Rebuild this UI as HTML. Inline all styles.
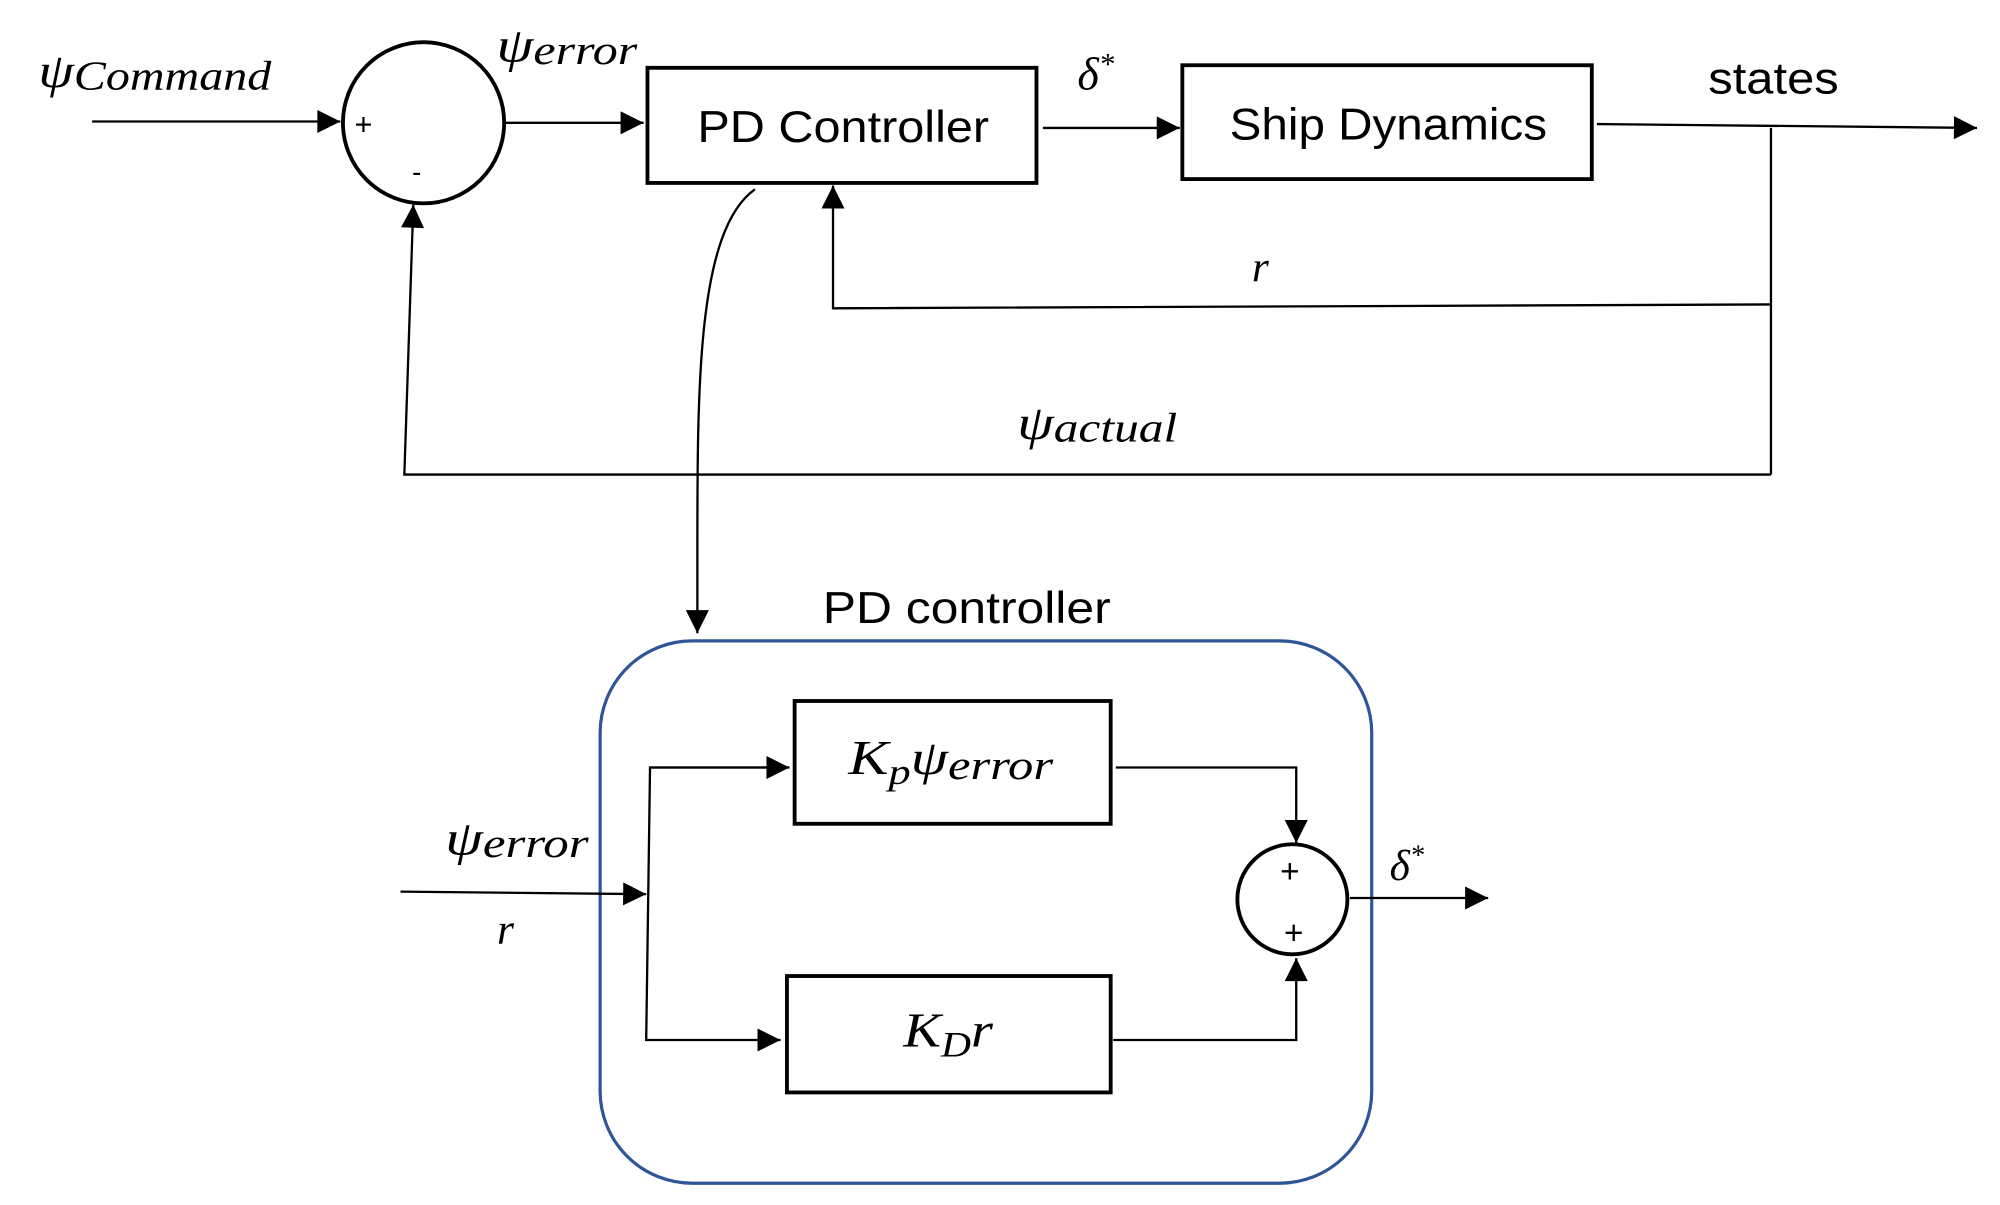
<!DOCTYPE html>
<html><head><meta charset="utf-8"><style>
html,body{margin:0;padding:0;background:#fff;width:2000px;height:1205px;overflow:hidden}
svg{display:block}
.m{font-family:"Liberation Serif",serif;font-style:italic}
.s{font-family:"Liberation Sans",sans-serif}
</style></head><body>
<svg width="2000" height="1205" viewBox="0 0 1563 942" preserveAspectRatio="none" xmlns="http://www.w3.org/2000/svg">
<defs>
<marker id="b" viewBox="0 0 10 10" refX="10" refY="5" markerWidth="22" markerHeight="18" markerUnits="userSpaceOnUse" orient="auto"><path d="M0,0 L10,5 L0,10 z" fill="#000"/></marker></defs>
<g stroke="#000" fill="none" stroke-width="1.8">
<line x1="72" y1="95" x2="266" y2="95" marker-end="url(#b)"/>
<circle cx="331" cy="96" r="63" stroke-width="3"/>
<line x1="395" y1="96" x2="503" y2="96" marker-end="url(#b)"/>
<rect x="506" y="53" width="304" height="90" stroke-width="3"/>
<line x1="815" y1="100" x2="922" y2="100" marker-end="url(#b)"/>
<rect x="924" y="51" width="320" height="89" stroke-width="3"/>
<line x1="1248" y1="97" x2="1545" y2="100" marker-end="url(#b)"/>
<line x1="1384" y1="100" x2="1384" y2="371"/>
<polyline points="1384,238 651,241 651,145" marker-end="url(#b)"/>
<polyline points="1384,371 316,371 323,160" marker-end="url(#b)"/>
<path d="M590,148 C545,180 545,300 545,430 L545,495" marker-end="url(#b)"/>
<rect x="469" y="501" width="603" height="424" rx="72" ry="72" stroke="#2e5597" stroke-width="2.5"/>
<rect x="621" y="548" width="247" height="96" stroke-width="3"/>
<rect x="615" y="763" width="253" height="91" stroke-width="3"/>
<line x1="313" y1="697" x2="505" y2="699" marker-end="url(#b)"/>
<polyline points="615,600 508,600 505,813 610,813" marker-end="url(#b)"/>
<line x1="508" y1="600" x2="617" y2="600" marker-end="url(#b)"/>
<polyline points="872,600 1013,600 1013,659" marker-end="url(#b)"/>
<circle cx="1010" cy="703" r="43" stroke-width="3"/>
<polyline points="870,813 1013,813 1013,749" marker-end="url(#b)"/>
<line x1="1055" y1="702" x2="1163" y2="702" marker-end="url(#b)"/>
</g>
<g fill="#000">
<text class="m" x="30" y="68" font-size="38" textLength="182" lengthAdjust="spacingAndGlyphs">ψ<tspan font-size="32" dy="2">Command</tspan></text>
<text class="s" x="277" y="105" font-size="24">+</text>
<text class="s" x="322" y="142" font-size="22">-</text>
<text class="m" x="388" y="48" font-size="38" textLength="110" lengthAdjust="spacingAndGlyphs">ψ<tspan font-size="32" dy="2">error</tspan></text>
<text class="s" x="545" y="111" font-size="35" textLength="228" lengthAdjust="spacingAndGlyphs">PD Controller</text>
<text class="m" x="842" y="70" font-size="36">δ<tspan font-size="24" dy="-12">*</tspan></text>
<text class="s" x="961" y="109" font-size="35" textLength="248" lengthAdjust="spacingAndGlyphs">Ship Dynamics</text>
<text class="s" x="1335" y="73" font-size="35" textLength="102" lengthAdjust="spacingAndGlyphs">states</text>
<text class="m" x="985" y="220" font-size="34" text-anchor="middle">r</text>
<text class="m" x="795" y="343" font-size="38" textLength="125" lengthAdjust="spacingAndGlyphs">ψ<tspan font-size="32" dy="2">actual</tspan></text>
<text class="s" x="643" y="487" font-size="35" textLength="225" lengthAdjust="spacingAndGlyphs">PD controller</text>
<text class="m" x="663" y="605" font-size="38" textLength="160" lengthAdjust="spacingAndGlyphs">K<tspan font-size="28" dy="8">p</tspan><tspan dy="-8">ψ</tspan><tspan font-size="32" dy="4">error</tspan></text>
<text class="m" x="706" y="818" font-size="38" textLength="70" lengthAdjust="spacingAndGlyphs">K<tspan font-size="28" dy="8">D</tspan><tspan dy="-8">r</tspan></text>
<text class="m" x="348" y="668" font-size="38" textLength="112" lengthAdjust="spacingAndGlyphs">ψ<tspan font-size="32" dy="2">error</tspan></text>
<text class="m" x="395" y="738" font-size="34" text-anchor="middle">r</text>
<text class="s" x="1008" y="690" font-size="26" text-anchor="middle">+</text>
<text class="s" x="1011" y="738" font-size="26" text-anchor="middle">+</text>
<text class="m" x="1086" y="688" font-size="34">δ<tspan font-size="22" dy="-12">*</tspan></text>
</g>
</svg>
</body></html>
